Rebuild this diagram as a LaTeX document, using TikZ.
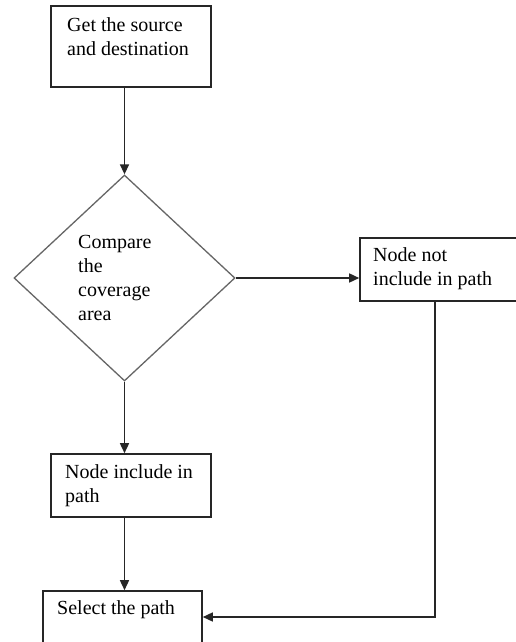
\documentclass[tikz,border=0pt]{standalone}
\usepackage{fontspec}
\setmainfont{Liberation Serif}
\usetikzlibrary{shapes.geometric,arrows.meta}
\begin{document}
\begin{tikzpicture}[x=1pt,y=-1pt,
  box/.style={draw=black!85,line width=1.6pt,rectangle,inner sep=0pt},
  dec/.style={draw=black!60,line width=1.3pt,diamond,inner sep=0pt,minimum width=221pt,minimum height=206pt},
  txt/.style={anchor=north west,inner sep=0pt,align=left,font=\fontsize{20}{24}\selectfont},
  conn/.style={line width=1.5pt,draw=black!85},
  arr/.style={conn,-{Triangle[length=10pt,width=9pt]}}]
\useasboundingbox (0,0) rectangle (516,642);
\clip (0,0) rectangle (516,642);
\fill[white] (0,0) rectangle (516,642);
% boxes
\node[box,minimum width=160pt,minimum height=81pt] (start) at (131,46.5) {};
\node[dec] (cmp) at (124.5,278) {};
\node[box,minimum width=170pt,minimum height=63pt] (notinc) at (445,269.5) {};
\node[box,minimum width=160pt,minimum height=63pt] (inc) at (131,485.5) {};
\node[box,minimum width=159pt,minimum height=90pt] (sel) at (122.5,636) {};
% texts
\node[txt] (t1) at (67,17) {Get the source\\and destination};
\node[txt] (t2) at (78,235) {Compare\\the\\coverage\\area};
\node[txt] (t3) at (373,247) {Node not\\include in path};
\node[txt] (t4) at (65,464) {Node include in\\path};
\node[txt] (t5) at (57,600) {Select the path};
% connectors
\coordinate (turn) at (435,617);
\draw[arr] (cmp.north |- start.south) -- (cmp.north);
\draw[arr] (cmp.east) -- (notinc.west |- cmp.east);
\draw[arr] (cmp.south) -- (cmp.south |- inc.north);
\draw[arr] (cmp.south |- inc.south) -- (cmp.south |- sel.north);
\draw[arr] (notinc.south -| turn) -- (turn) -- (sel.east |- turn);
\end{tikzpicture}
\end{document}
